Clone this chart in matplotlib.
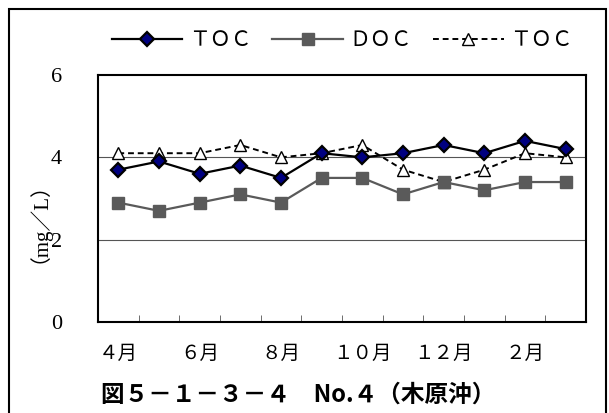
import matplotlib
matplotlib.use('Agg')
import matplotlib.pyplot as plt
from matplotlib.patches import Rectangle

# Monthly values (April .. March)
months = ['4', '5', '6', '7', '8', '9', '10', '11', '12', '1', '2', '3']
tick_labels = ['４月', '', '６月', '', '８月', '', '１０月', '', '１２月', '', '２月', '']
toc = [3.7, 3.9, 3.6, 3.8, 3.5, 4.1, 4.0, 4.1, 4.3, 4.1, 4.4, 4.2]
doc = [2.9, 2.7, 2.9, 3.1, 2.9, 3.5, 3.5, 3.1, 3.4, 3.2, 3.4, 3.4]
toc_prev = [4.1, 4.1, 4.1, 4.3, 4.0, 4.1, 4.3, 3.7, 3.4, 3.7, 4.1, 4.0]
legend_labels = ['ＴＯＣ', 'ＤＯＣ', 'ＴＯＣ']

jp = ['Liberation Serif', 'Noto Sans CJK JP']
plt.rcParams['font.family'] = jp

fig = plt.figure(figsize=(6.09, 4.13), dpi=100)
ax = fig.add_axes([98 / 609, 91 / 413, 488 / 609, 247 / 413])

x = list(range(len(months)))

# outer frame around the whole figure
fig.patches.append(Rectangle((9 / 609, -0.1), 597 / 609, 1.1 - 9 / 413,
                             transform=fig.transFigure, fill=False,
                             edgecolor='black', linewidth=1.5))

for v in [2, 4]:
    ax.axhline(v, color='#555555', linewidth=0.8, zorder=1)

ax.plot(x, toc_prev, color='black', linestyle=(0, (3, 2)), linewidth=1.4,
        marker='^', markersize=8, markerfacecolor='white',
        markeredgecolor='black', markeredgewidth=1.0, label=legend_labels[2], zorder=3)
ax.plot(x, doc, color='#5a5a5a', linewidth=1.6, marker='s', markersize=8,
        markerfacecolor='#5a5a5a', markeredgecolor='#5a5a5a', label=legend_labels[1], zorder=4)
ax.plot(x, toc, color='black', linewidth=1.6, marker='D', markersize=7.5,
        markerfacecolor='#000080', markeredgecolor='black', markeredgewidth=1.6,
        label=legend_labels[0], zorder=5)

ax.set_xlim(-0.5, 11.5)
ax.set_ylim(0, 6)
ax.set_yticks([0, 2, 4, 6])
ax.set_yticklabels(['0', '2', '4', '6'], fontsize=16, family='Liberation Serif')
ax.tick_params(axis='y', length=0, pad=26)

ax.set_xticks(x)
ax.set_xticklabels(tick_labels, fontsize=14)
ax.set_xticks([i + 0.5 for i in range(11)], minor=True)
ax.tick_params(axis='x', which='major', length=0, pad=17)
ax.tick_params(axis='x', which='minor', direction='in', length=5, width=0.6, color='#555555')

for s in ax.spines.values():
    s.set_linewidth(1.5)
    s.set_color('black')

fig.text(28 / 609, 1 - 212 / 413, '（mg／L）', rotation=90, ha='center', va='center',
         fontsize=15, family=jp)

handles, labels = ax.get_legend_handles_labels()
order = [2, 1, 0]
fig.legend([handles[i] for i in order], [labels[i] for i in order],
           loc='center', bbox_to_anchor=(342 / 609, 1 - 41 / 413), ncol=3,
           frameon=False, fontsize=15, handlelength=3.4, handletextpad=0.3,
           columnspacing=1.0, borderpad=0)

fig.text(298 / 609, 1 - 395 / 413, '図５－１－３－４　No.４（木原沖）', ha='center', va='center',
         fontsize=17, fontweight='bold', family=['Noto Sans CJK JP'])

fig.savefig('out.png', dpi=100)
